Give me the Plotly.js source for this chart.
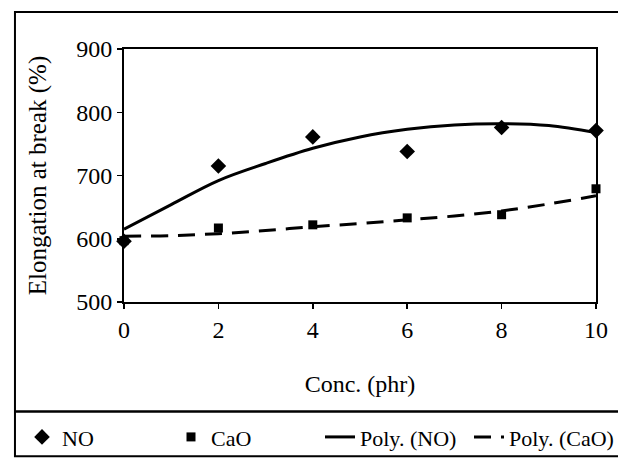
<!DOCTYPE html>
<html>
<head>
<meta charset="utf-8">
<script src="https://cdn.plot.ly/plotly-3.0.1.min.js"></script>
<style>html,body{margin:0;padding:0;background:#fff;}#chart{width:618px;height:468px;}</style>
</head>
<body>
<div id="chart"></div>
<script>
// Data
const conc = [0, 2, 4, 6, 8, 10];
const elongNO = [596, 715, 761, 738, 776, 771];
const elongCaO = [597, 617, 622, 633, 638, 679];
// Trendline values
const trendX = [0, 1, 2, 3, 4, 5, 6, 7, 8, 9, 10];
const trendNO = [615, 654, 692, 719, 743, 761, 773, 780, 782, 779, 768];
const trendCaO = [604, 605, 608, 613, 619, 624, 630, 636, 644, 655, 668];
const yTicks = [500, 600, 700, 800, 900];
const xTicks = [0, 2, 4, 6, 8, 10];

const serif = 'Liberation Serif, Times New Roman, serif';

const traces = [
  {x: conc, y: elongNO, name: 'NO', mode: 'markers', type: 'scatter',
   marker: {symbol: 'diamond', size: 12, color: '#000'}, cliponaxis: false},
  {x: conc, y: elongCaO, name: 'CaO', mode: 'markers', type: 'scatter',
   marker: {symbol: 'square', size: 9, color: '#000'}, cliponaxis: false},
  {x: trendX, y: trendNO, name: 'Poly. (NO)', mode: 'lines', type: 'scatter',
   line: {color: '#000', width: 3, shape: 'spline', smoothing: 1}},
  {x: trendX, y: trendCaO, name: 'Poly. (CaO)', mode: 'lines', type: 'scatter',
   line: {color: '#000', width: 3, shape: 'spline', smoothing: 1, dash: '17px,10px'}}
];

const layout = {
  width: 618, height: 468,
  margin: {l: 124, r: 22, t: 49, b: 165},
  paper_bgcolor: '#fff', plot_bgcolor: '#fff',
  font: {family: serif, color: '#000', size: 22},
  showlegend: true,
  legend: {orientation: 'h', x: -0.21, xanchor: 'left', y: -0.528, yanchor: 'middle',
           font: {family: serif, size: 22, color: '#000'}, bgcolor: 'rgba(0,0,0,0)',
           itemwidth: 30, tracegroupgap: 0, entrywidth: 104, entrywidthmode: 'pixels'},
  xaxis: {range: [0, 10], tickvals: xTicks, ticktext: xTicks.map(String),
          showgrid: false, zeroline: false, showline: true, linecolor: '#000', linewidth: 2,
          mirror: true, ticks: 'outside', ticklen: 5, tickcolor: '#000', tickwidth: 1.5,
          tickfont: {family: serif, size: 24},
          title: {text: 'Conc. (phr)', font: {family: serif, size: 24}, standoff: 33}},
  yaxis: {range: [500, 900], tickvals: yTicks, ticktext: yTicks.map(String),
          showgrid: false, zeroline: false, showline: true, linecolor: '#000', linewidth: 2,
          mirror: true, ticks: 'outside', ticklen: 5, tickcolor: '#000', tickwidth: 1.5,
          tickfont: {family: serif, size: 24},
          title: {text: 'Elongation at break (%)', font: {family: serif, size: 25}, standoff: 22}},
  shapes: [
    {type: 'rect', xref: 'paper', yref: 'paper', x0: -0.231, x1: 1.1, y0: -0.61, y1: 1.146,
     line: {color: '#000', width: 2}},
    {type: 'line', xref: 'paper', yref: 'paper', x0: -0.231, x1: 1.1, y0: -0.433, y1: -0.433,
     line: {color: '#000', width: 2.5}}
  ]
};

Plotly.newPlot('chart', traces, layout, {displayModeBar: false, staticPlot: true});
</script>
</body>
</html>
